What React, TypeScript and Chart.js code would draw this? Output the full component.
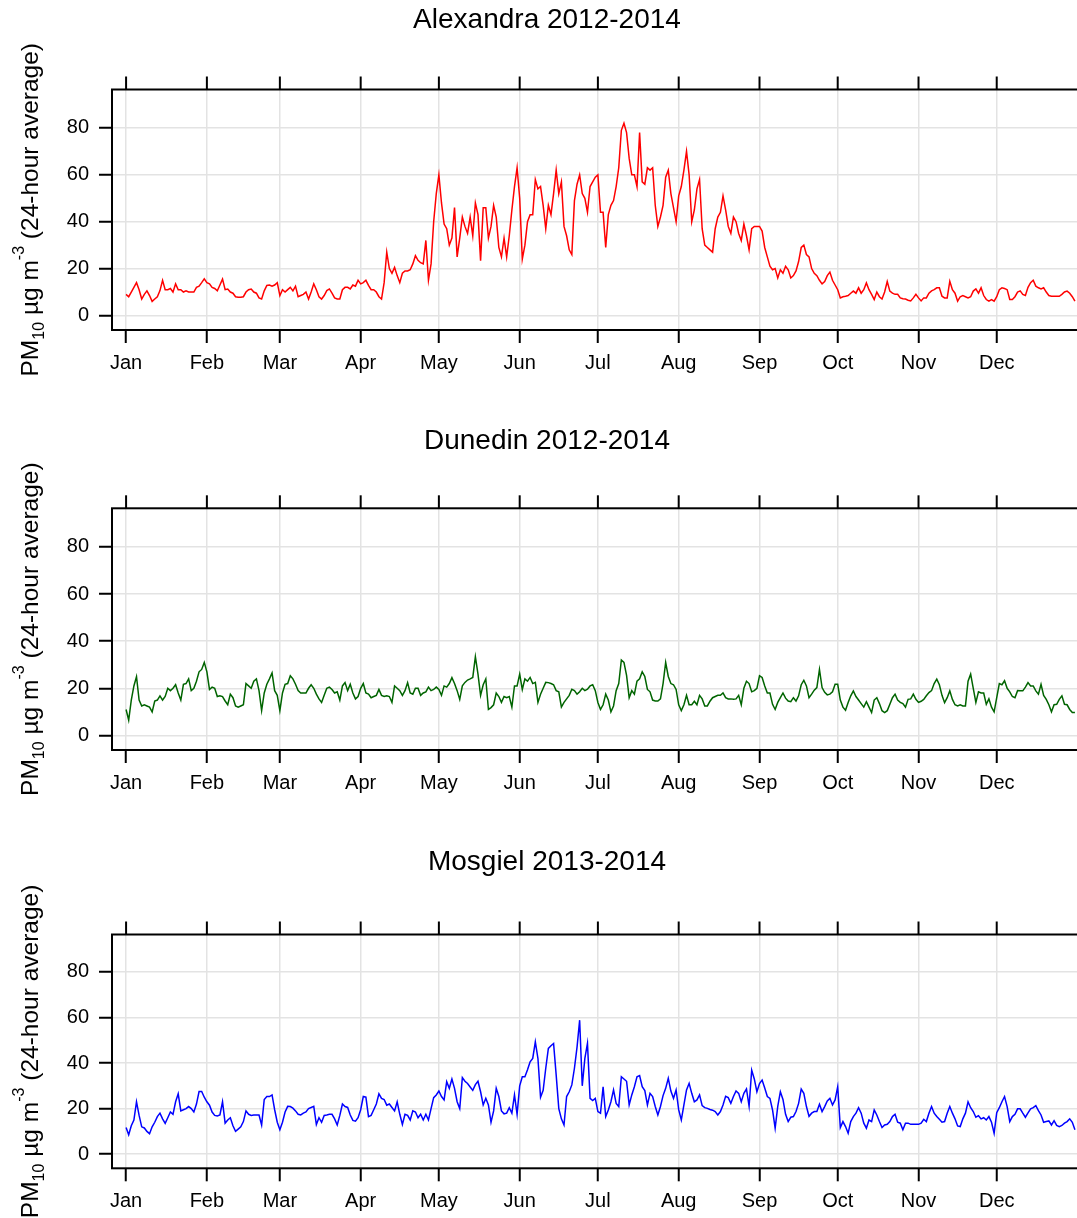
import React, { useEffect, useRef } from "react";
import { Chart, registerables } from "chart.js";

Chart.register(...registerables);

const FONT = '"Liberation Sans", Arial, Helvetica, sans-serif';

// Day-of-year positions of month starts and their labels
const monthTickDays = [0, 31, 59, 90, 120, 151, 181, 212, 243, 273, 304, 334];
const monthLabels = ["Jan", "Feb", "Mar", "Apr", "May", "Jun", "Jul", "Aug", "Sep", "Oct", "Nov", "Dec"];
const yTickValues = [0, 20, 40, 60, 80];

// Daily PM10 (24-hour average), day 0 = 1 Jan
const alexandra = [
  9, 8, 10, 12, 14, 11, 7, 9, 10.5, 8.5,
  6, 7, 8, 10.6, 15, 11, 11, 11.5, 10, 13.5,
  11, 11, 10, 10.5, 10, 10, 10, 12, 12.5, 14,
  15.6, 14, 13.5, 12, 11.5, 10.5, 13, 15.5, 11, 11.3,
  10, 9.5, 8, 7.8, 7.8, 8, 10, 11, 11.3, 10,
  9.5, 7.5, 7, 10.5, 12.8, 13, 12.5, 13, 14, 8.5,
  11, 10, 11, 12, 10.5, 12.5, 8, 8.5, 9, 10,
  7, 10, 13.5, 11, 8, 7, 8.5, 10.6, 11.3, 9.5,
  7.5, 7, 7, 11, 12, 12, 11.3, 13, 12.5, 15,
  13.5, 14, 15, 12.8, 11, 11, 10, 8, 7, 14,
  27, 20, 18, 20.5, 17, 14, 18, 19, 19, 19.5,
  22, 25.5, 23.5, 22.5, 22, 32, 15, 22, 40, 52,
  60, 48, 39, 37, 30, 33, 46, 25, 33, 42,
  38, 35, 42, 34, 48, 43, 23.4, 46, 46, 33,
  38, 47, 42, 29, 25, 33, 25, 34, 45, 55,
  63, 50, 24, 30, 40, 43, 43, 58, 54, 55,
  47, 37, 47, 43, 52, 62, 52, 57, 38, 34,
  28, 26, 49, 56, 60, 52, 50, 44, 55, 57,
  59, 60, 44, 44, 29, 43, 47, 49, 55, 63,
  79, 82, 78, 67, 60, 60, 55, 78, 57, 56,
  63, 62, 63, 47, 38, 42, 47, 59, 62, 52,
  46, 40, 51, 55, 62, 70, 60, 40, 45, 54,
  58, 37, 30, 29, 28, 27, 37, 42, 44, 51,
  45, 38, 35, 42, 40, 35, 32, 39, 34, 28,
  37, 38, 38, 38, 36, 29, 25, 21, 19.5, 20,
  16, 19.5, 18, 21, 19.5, 16, 17, 19, 23, 29,
  30, 26, 25, 20, 18, 17, 15, 13.5, 14.5, 17,
  18.5, 15, 13, 11, 7.5, 8, 8.2, 8.5, 9.5, 10.4,
  9.5, 11.8, 9.5, 11, 13.9, 11, 9, 6.8, 10, 8,
  7, 10, 14.5, 10.4, 9.5, 9, 9, 7.5, 7.1, 7,
  6.5, 6.2, 7.5, 9, 7.5, 6.2, 7.5, 7.5, 9.5, 10.5,
  11, 11.8, 11.8, 8.2, 7.5, 7.5, 14.6, 11, 9.5, 6.1,
  8, 8.5, 8, 7.5, 8, 10.4, 11.3, 9.5, 11.8, 8.5,
  6.8, 6.1, 6.8, 6.1, 8, 11, 11.8, 11.5, 11, 6.8,
  6.8, 8, 10, 10.5, 9, 8.5, 12, 14, 15, 12.5,
  11.8, 11.3, 11.8, 10, 8.5, 8.2, 8.2, 8.2, 8.2, 9,
  10, 10.4, 9.5, 8, 6.1,
];

const dunedin = [
  11, 6.5, 15, 21, 24.9, 15, 12.5, 13, 12.5, 12,
  10, 14.6, 15, 16.8, 15, 16.5, 20, 19, 20, 21.5,
  18, 15, 21.7, 22, 24, 19, 20, 23, 27, 28,
  31, 27, 19.5, 20.5, 20, 16.5, 16.8, 16.5, 14.6, 13,
  17.5, 16, 12.5, 12, 12.5, 13, 22, 21, 20, 23,
  24, 19, 10.5, 18, 21.7, 24, 26.5, 19, 17, 10.5,
  18, 21.7, 22, 25.3, 24, 21.7, 19, 18, 18, 18,
  20, 21.5, 20, 17.5, 15.5, 14, 17, 20, 20.5, 19.5,
  18, 18.5, 15, 21, 22.4, 19, 21.7, 18, 15.5, 16.5,
  20, 22, 18, 17.5, 16, 16.5, 17, 19.5, 17, 16.5,
  16.8, 16.5, 14, 21, 20, 19, 17, 19, 22.4, 18,
  17.5, 20, 20, 17, 18, 18.5, 20.5, 19, 19.5, 20.5,
  19.5, 17, 21, 20.5, 22, 24.5, 22, 19, 15.3, 21,
  22.5, 23.5, 24, 24.6, 33.4, 26, 17, 21.5, 24, 11,
  11.8, 13, 18, 16.5, 14, 16.5, 16, 16.5, 12, 21,
  21, 26, 19.5, 24, 23, 24.6, 22, 22.5, 14, 17.5,
  20, 22.5, 22.4, 22, 21.5, 19, 18.5, 12, 14, 15.5,
  17, 19.6, 19, 17.5, 18.5, 20, 19, 19.6, 21, 21.5,
  19, 14, 11, 13, 17.5, 15, 10, 12.5, 19, 22,
  32, 31, 25.5, 16, 19, 17.5, 23, 24, 27, 25,
  19.5, 18.5, 15, 14.6, 14.6, 15.5, 22, 31, 25, 22,
  21.5, 19.5, 13, 10.5, 13, 17, 13, 13, 14.5, 13,
  17, 15.5, 12.5, 12.5, 14.5, 16, 16.5, 17, 17, 18,
  16, 15.5, 15.5, 15.3, 15.5, 17, 13, 20, 23, 22,
  18.5, 19, 20, 25.3, 24.6, 21, 18, 18, 13.2, 11,
  14, 16, 18, 15.8, 14.6, 14.3, 16, 14.6, 16.8, 21.5,
  23.4, 21, 16, 17.5, 19.2, 20.3, 28, 20.3, 18.3, 17.2,
  17.5, 18.5, 21.7, 21.7, 15, 12, 10.7, 14, 16.8, 18.9,
  16.5, 15, 13.5, 12, 14.3, 12, 9.7, 15, 16, 13.5,
  10.5, 9.7, 10.5, 13.2, 16, 17.5, 15, 14, 13.5, 12,
  15.3, 15.5, 17.5, 15.3, 14, 14.5, 15.3, 16.8, 18.2, 19,
  22, 23.9, 21.5, 17, 13.9, 16, 18.9, 15.3, 13, 12.5,
  13, 12.5, 12.5, 23, 26, 20, 14, 18.5, 18, 18,
  13.2, 15.5, 12, 10, 16, 22, 21.5, 23.2, 20, 18.5,
  16.5, 16, 19, 18.9, 18.9, 20.5, 22.4, 21, 21, 18.9,
  17.5, 21.7, 17, 15.3, 13, 10, 13, 13.2, 15.3, 16.8,
  13.2, 13, 11, 9.7, 9.7,
];

const mosgiel = [
  11.7, 8.5, 12.5, 15, 23, 17, 12, 11.5, 10, 9,
  12, 14, 16.5, 18, 15.5, 13.5, 16, 18.5, 17.5, 23,
  26.5, 19, 19.5, 20, 20.9, 20, 18.5, 22, 27.5, 27.5,
  25, 23, 21.5, 18.5, 17, 16.8, 17.2, 23, 13.6, 15,
  16, 12.5, 10, 11, 12, 14.3, 19, 17.5, 17, 17.2,
  17.2, 17.2, 12.8, 24, 25.3, 25.3, 26, 19.5, 14, 10.7,
  14, 18.5, 21, 20.9, 20.2, 19, 17.5, 17.2, 18, 18.5,
  20, 20.5, 21, 13, 16, 14, 17, 17.2, 17.5, 17.5,
  15.5, 12.8, 17, 22, 20.9, 20.5, 17.2, 14.8, 14.5, 16,
  19.5, 25.3, 25, 16.5, 17, 19.5, 22, 26.5, 24.5, 24,
  21.5, 22, 20.5, 19, 23, 17.5, 13, 17.5, 17, 15,
  19, 18.5, 16, 17.5, 15, 17.5, 15, 20, 24.8, 26,
  27.7, 25.3, 23.8, 31.8, 28.9, 33, 28.9, 23, 20, 33.6,
  32, 31, 29.5, 28, 30.5, 32, 27.4, 21.6, 24.5, 21.6,
  14, 19, 28.9, 25.3, 19, 17.7, 18, 20.4, 18, 26,
  17.5, 30, 34, 34, 37, 40.5, 42, 49.3, 42, 25,
  28, 37.7, 46.4, 47.6, 48.6, 34.7, 20, 15.5, 12.8, 25.3,
  27.4, 30.4, 37.7, 47, 58.8, 30, 42, 48.6, 24.5, 23.5,
  24.5, 18.7, 18, 29.6, 16.5, 19.4, 23, 28.2, 22.3, 20.9,
  34, 33, 32, 21.6, 26, 29.6, 34, 34.5, 29.6, 27.9,
  21.6, 26.7, 25.3, 20.9, 17.2, 20.9, 25.7, 28.9, 33.3, 27.7,
  24.5, 28.2, 19.4, 15, 21.6, 28.2, 31.1, 26.7, 23, 23.8,
  26, 21.3, 20.4, 20.1, 19.6, 19.3, 18.7, 17.2, 18.7, 21.6,
  25.4, 24.8, 22.3, 25.3, 27.7, 26.7, 23, 26.7, 28.6, 21,
  36.9, 33, 27.4, 31, 32.5, 29, 25.3, 24.5, 19.4, 11.4,
  21, 27.4, 24, 17.5, 14.3, 16.2, 16.5, 18.7, 22.3, 28.6,
  26.7, 20.9, 16.6, 18, 18.7, 18.7, 21.9, 18.7, 20.9, 23.4,
  24.5, 21.6, 23.8, 29.6, 11.7, 14.3, 12.1, 9.2, 14.3, 16.5,
  18, 20.4, 18, 13.6, 11.4, 15, 14.3, 19.4, 17.2, 14.3,
  11.7, 12.8, 13.1, 14.3, 16.5, 17.5, 14, 13.6, 10.7, 13.6,
  13.6, 13.1, 13.1, 13.1, 13.1, 13.6, 15.3, 14.3, 18, 20.9,
  18, 16.5, 15.3, 14, 14.3, 18, 20.9, 18, 15.5, 12.4,
  12.1, 15.5, 18, 23, 20.4, 18.7, 16.2, 16.9, 15.5, 16,
  15, 16.5, 14, 9.2, 18.2, 20.4, 23, 25.3, 20.9, 14.3,
  16.5, 17.5, 19.9, 19.9, 18, 16.2, 18.1, 19.9, 20.4, 21.3,
  19.1, 17.2, 14, 14.3, 14.6, 12.8, 14.7, 12.6, 12.1, 12.6,
  13.6, 14.3, 15.5, 14, 10.7,
];

const titles = ["Alexandra 2012-2014", "Dunedin 2012-2014", "Mosgiel 2013-2014"];
const colors = ["#FF0000", "#006400", "#0000FF"];

type PanelCfg = {
  title: string;
  values: number[];
  color: string;
  top: number;
  height: number;
  areaTop: number;
  areaBottom: number;
  titleY: number;
};

const panels: PanelCfg[] = [
  { title: titles[0], values: alexandra, color: colors[0], top: 0, height: 420, areaTop: 89.5, areaBottom: 330, titleY: 20 },
  { title: titles[1], values: dunedin, color: colors[1], top: 420, height: 420, areaTop: 88.3, areaBottom: 330, titleY: 21 },
  { title: titles[2], values: mosgiel, color: colors[2], top: 840, height: 410, areaTop: 94.5, areaBottom: 328.3, titleY: 22 },
];

const CANVAS_W = 1100;
const X_AXIS_H = 60;

const framePlugin = {
  id: "frame",
  afterDraw(chart: any, _args: any, opts: any) {
    const { ctx, chartArea: a, scales } = chart;
    ctx.save();
    ctx.strokeStyle = "#000";
    ctx.lineWidth = 2;
    ctx.strokeRect(a.left, a.top, a.right - a.left, a.bottom - a.top);
    // top tick marks
    scales.x.ticks.forEach((t: any) => {
      const px = scales.x.getPixelForValue(t.value);
      ctx.beginPath();
      ctx.moveTo(px, a.top);
      ctx.lineTo(px, a.top - 13);
      ctx.stroke();
    });
    // title
    ctx.fillStyle = "#000";
    ctx.font = `28px ${FONT}`;
    ctx.textAlign = "center";
    ctx.textBaseline = "middle";
    ctx.fillText(opts.title, 547, opts.titleY);
    // y-axis label with sub/superscripts
    const cy = (a.top + a.bottom) / 2;
    const parts = [
      { t: "PM", size: 24.5, dy: 0 },
      { t: "10", size: 16, dy: 6 },
      { t: " \u00b5g m", size: 24.5, dy: 0 },
      { t: "-3", size: 16, dy: -14 },
      { t: " (24-hour average)", size: 24.5, dy: 0 },
    ];
    ctx.translate(38, cy);
    ctx.rotate(-Math.PI / 2);
    ctx.textAlign = "left";
    ctx.textBaseline = "alphabetic";
    let total = 0;
    const widths = parts.map((p) => {
      ctx.font = `${p.size}px ${FONT}`;
      const w = ctx.measureText(p.t).width;
      total += w;
      return w;
    });
    let x = -total / 2;
    parts.forEach((p, i) => {
      ctx.font = `${p.size}px ${FONT}`;
      ctx.fillText(p.t, x, p.dy);
      x += widths[i];
    });
    ctx.restore();
  },
};

function Panel({ cfg }: { cfg: PanelCfg }) {
  const ref = useRef<HTMLCanvasElement>(null);
  useEffect(() => {
    const canvas = ref.current!;
    const chart = new Chart(canvas, {
      type: "line",
      data: {
        datasets: [
          {
            data: cfg.values.map((v, i) => ({ x: i, y: v })),
            borderColor: cfg.color,
            borderWidth: 1.5,
            pointRadius: 0,
            tension: 0,
            fill: false,
          },
        ],
      },
      options: {
        responsive: false,
        animation: false,
        devicePixelRatio: 1,
        layout: {
          padding: {
            left: 0,
            right: CANVAS_W - 1089,
            top: cfg.areaTop,
            bottom: cfg.height - cfg.areaBottom - X_AXIS_H,
          },
        },
        plugins: {
          legend: { display: false },
          tooltip: { enabled: false },
          title: { display: false },
          frame: { title: cfg.title, titleY: cfg.titleY },
        } as any,
        scales: {
          x: {
            type: "linear",
            min: -5.4,
            max: 369.4,
            afterBuildTicks: (s: any) => {
              s.ticks = monthTickDays.map((v) => ({ value: v }));
            },
            afterFit: (s: any) => {
              s.height = X_AXIS_H;
            },
            ticks: {
              autoSkip: false,
              maxRotation: 0,
              minRotation: 0,
              padding: 8,
              color: "#000",
              font: { family: FONT, size: 20 },
              callback: (v: any) => monthLabels[monthTickDays.indexOf(Number(v))],
            },
            grid: {
              color: "#e3e3e3",
              lineWidth: 1.5,
              tickColor: "#000",
              tickLength: 13,
              tickWidth: 2,
              drawTicks: true,
            },
            border: { display: false },
          },
          y: {
            type: "linear",
            min: -6.2,
            max: 96.4,
            afterBuildTicks: (s: any) => {
              s.ticks = yTickValues.map((v) => ({ value: v }));
            },
            afterFit: (s: any) => {
              s.width = 112;
            },
            ticks: {
              padding: 10,
              color: "#000",
              font: { family: FONT, size: 20 },
            },
            grid: {
              color: "#e3e3e3",
              lineWidth: 1.5,
              tickColor: "#000",
              tickLength: 13,
              tickWidth: 2,
              drawTicks: true,
            },
            border: { display: false },
          },
        },
      } as any,
      plugins: [framePlugin],
    });
    return () => chart.destroy();
  }, [cfg]);
  return (
    <canvas
      ref={ref}
      width={CANVAS_W}
      height={cfg.height}
      style={{ position: "absolute", left: 0, top: cfg.top, width: CANVAS_W, height: cfg.height }}
    />
  );
}

export default function App() {
  return (
    <div
      style={{
        position: "fixed",
        left: 0,
        top: 0,
        width: 1077,
        height: 1218,
        overflow: "hidden",
        background: "#fff",
      }}
    >
      {panels.map((p, i) => (
        <Panel key={i} cfg={p} />
      ))}
    </div>
  );
}
